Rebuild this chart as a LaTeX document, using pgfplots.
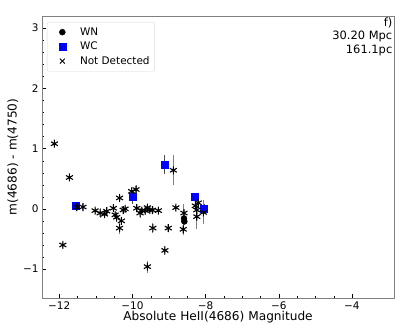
\documentclass[border=0pt]{standalone}
\usepackage{fontspec}
\setmainfont{DejaVu Sans}
\usepackage{pgfplots}
\pgfplotsset{compat=1.18}
\begin{document}
\begin{tikzpicture}[x=1bp,y=1bp]
\useasboundingbox (0,0) rectangle (415,332);
\begin{axis}[
  at={(42bp,34bp)}, anchor=south west,
  scale only axis, width=352bp, height=282bp,
  xmin=-12.47, xmax=-2.85, ymin=-1.48, ymax=3.2,
  xtick={-12,-10,-8,-6,-4},
  xticklabels={−12,−10,−8,−6,−4},
  ytick={-1,0,1,2,3},
  yticklabels={−1,0,1,2,3},
  minor x tick num=3, minor y tick num=4,
  tick align=inside,
  xtick pos=bottom, ytick pos=left,
  axis line style={gray},
  major tick length=4bp, minor tick length=2bp,
  tick style={black},
  ticklabel style={font=\fontsize{10.5}{12}\selectfont},
  xlabel={Absolute HeII(4686) Magnitude},
  ylabel={m(4686) - m(4750)},
  label style={font=\fontsize{12.2}{14}\selectfont},
  xlabel style={yshift=5bp},
  ylabel style={yshift=-2bp},
  legend style={at={(0.014,0.979)}, anchor=north west, draw=black!15, rounded corners=2bp, font=\fontsize{10.5}{12}\selectfont, row sep=1.2pt, inner xsep=3bp, inner ysep=3.5bp},
  legend cell align=left,
  legend image code/.code={\path (0bp,0bp) (27.5bp,0bp); \draw[#1] plot coordinates {(12bp,0bp)};},
]
\addlegendimage{only marks, mark=*, mark size=3bp, black}
\addlegendentry{WN}
\addlegendimage{only marks, mark=square*, mark size=3.5bp, blue}
\addlegendentry{WC}
\addlegendimage{only marks, mark=x, mark size=3.5bp, black, mark options={line width=0.9pt}}
\addlegendentry{Not Detected}
% WN
\addplot[forget plot, only marks, mark=*, mark size=3bp, black,
  error bars/.cd, y dir=both, y explicit, error bar style={gray, line width=1pt}, error mark=none]
  table[x=x, y=y, y error=e] {
x y e
-8.59 -0.16 0.06
-8.58 -0.21 0.05
};
% WC
\addplot[forget plot, only marks, mark=square*, mark size=3.5bp, blue,
  error bars/.cd, y dir=both, y explicit, error bar style={black!70, line width=1pt}, error mark=none]
  table[x=x, y=y, y error=e] {
x y e
-11.54 0.05 0.03
-10.00 0.20 0.12
-9.13 0.73 0.16
-8.31 0.20 0.07
-8.04 0.01 0.07
};
% Not detected
\addplot[forget plot, only marks, mark=asterisk, mark size=4bp, black, mark options={line width=1.1pt},
  error bars/.cd, y dir=both, y explicit, error bar style={gray, line width=1pt}, error mark=none]
  table[x=x, y=y, y error=e] {
x y e
-12.13 1.08 0.05
-11.72 0.52 0.04
-11.90 -0.60 0.05
-11.52 0.03 0.05
-11.35 0.03 0.05
-11.02 -0.03 0.05
-10.88 -0.07 0.08
-10.76 -0.09 0.05
-10.70 -0.04 0.05
-10.52 0.01 0.06
-10.47 -0.10 0.05
-10.43 -0.14 0.08
-10.35 0.18 0.06
-10.35 -0.32 0.10
-10.30 -0.20 0.05
-10.25 -0.02 0.05
-10.20 0.00 0.05
-10.02 0.29 0.06
-9.90 0.32 0.08
-9.88 0.01 0.05
-9.79 -0.07 0.08
-9.74 -0.03 0.06
-9.65 -0.03 0.08
-9.59 0.02 0.06
-9.52 -0.02 0.05
-9.45 -0.02 0.05
-9.29 -0.03 0.05
-9.59 -0.96 0.10
-9.44 -0.32 0.08
-9.11 -0.69 0.08
-9.02 -0.32 0.06
-8.88 0.64 0.25
-8.81 0.02 0.05
-8.61 -0.34 0.10
-8.59 -0.07 0.15
-8.24 -0.02 0.10
-8.24 -0.13 0.20
-8.20 0.10 0.06
-8.06 -0.06 0.20
-8.28 0.05 0.06
};
\node[anchor=north east, align=right, font=\fontsize{11.5}{13.5}\selectfont, inner sep=1.5bp] at (rel axis cs:1,1) {f)\\30.20 Mpc\\161.1pc};
\end{axis}
\end{tikzpicture}
\end{document}
